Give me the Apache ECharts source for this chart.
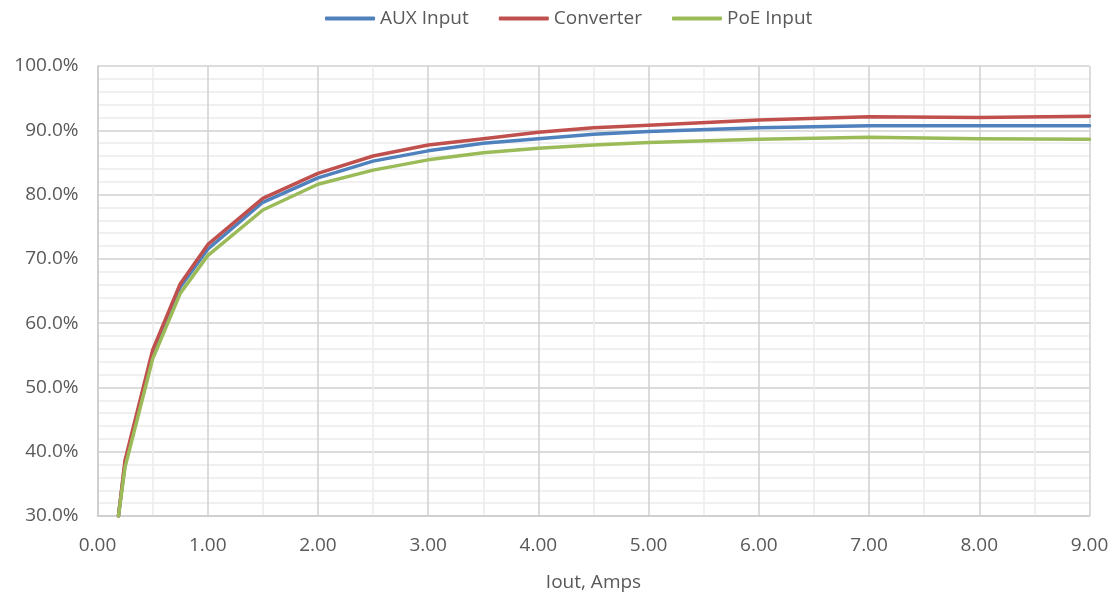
<!DOCTYPE html>
<html>
<head>
<meta charset="utf-8">
<script src="https://cdn.jsdelivr.net/npm/echarts@6/dist/echarts.min.js"></script>
<style>
  html, body { margin: 0; padding: 0; background: #ffffff; }
  #chart { width: 1116px; height: 597px; }
</style>
</head>
<body>
<div id="chart"></div>
<script>
// Output current (A) sample points
const iout = [0.19, 0.25, 0.5, 0.75, 1.0, 1.5, 2.0, 2.5, 3.0, 3.5, 4.0, 4.5, 5.0, 6.0, 7.0, 8.0, 9.0];

// Efficiency (%) per input path
const auxInput  = [30.0, 38.2, 55.2, 65.6, 71.5, 78.8, 82.6, 85.2, 86.8, 88.0, 88.7, 89.4, 89.8, 90.4, 90.7, 90.7, 90.7];
const converter = [30.0, 38.7, 55.8, 66.1, 72.2, 79.4, 83.3, 86.0, 87.7, 88.7, 89.7, 90.4, 90.8, 91.6, 92.1, 92.0, 92.2];
const poeInput  = [30.0, 37.6, 54.4, 64.6, 70.5, 77.6, 81.6, 83.8, 85.4, 86.5, 87.2, 87.7, 88.1, 88.6, 88.9, 88.7, 88.6];

const seriesNames  = ['AUX Input', 'Converter', 'PoE Input'];
const seriesValues = [auxInput, converter, poeInput];
const seriesColors = ['#4f81bd', '#c0504d', '#9bbb59'];

const FONT = '"Open Sans", "DejaVu Sans", sans-serif';
const TEXT = '#595959';
const FS = 19;

const chart = echarts.init(document.getElementById('chart'), null, { renderer: 'canvas' });

chart.setOption({
  animation: false,
  backgroundColor: '#ffffff',
  textStyle: { fontFamily: FONT },
  legend: {
    top: 4,
    left: 320,
    itemWidth: 50,
    itemHeight: 4,
    itemGap: 30,
    icon: 'roundRect',
    textStyle: { fontFamily: FONT, fontSize: FS, color: TEXT },
    data: seriesNames
  },
  grid: { left: 97.5, right: 26.5, top: 66, bottom: 81, containLabel: false },
  xAxis: {
    type: 'value',
    min: 0,
    max: 9,
    interval: 1,
    name: 'Iout, Amps',
    nameLocation: 'middle',
    nameGap: 57,
    nameTextStyle: { fontFamily: FONT, fontSize: FS, color: TEXT },
    axisLine: { show: true, lineStyle: { color: '#cccccc', width: 1.5 } },
    axisTick: { show: false },
    axisLabel: {
      margin: 20,
      fontFamily: FONT,
      fontSize: FS,
      color: TEXT,
      formatter: v => v.toFixed(2)
    },
    splitLine: { show: true, lineStyle: { color: '#d0d0d0', width: 1.5 } },
    minorTick: { show: false, splitNumber: 2 },
    minorSplitLine: { show: true, lineStyle: { color: '#ececec', width: 1.5 } }
  },
  yAxis: {
    type: 'value',
    min: 30,
    max: 100,
    interval: 10,
    axisLine: { show: true, lineStyle: { color: '#cccccc', width: 1.5 } },
    axisTick: { show: false },
    axisLabel: {
      margin: 19,
      fontFamily: FONT,
      fontSize: FS,
      color: TEXT,
      formatter: v => v.toFixed(1) + '%'
    },
    splitLine: { show: true, lineStyle: { color: '#d0d0d0', width: 1.5 } },
    minorTick: { show: false, splitNumber: 5 },
    minorSplitLine: { show: true, lineStyle: { color: '#ececec', width: 1.5 } }
  },
  series: seriesNames.map((name, i) => ({
    name: name,
    type: 'line',
    showSymbol: false,
    symbol: 'none',
    clip: true,
    color: seriesColors[i],
    lineStyle: { color: seriesColors[i], width: 3.5, cap: 'round', join: 'round' },
    data: iout.map((x, k) => [x, seriesValues[i][k]]),
    z: 2 + i
  }))
});
</script>
</body>
</html>
